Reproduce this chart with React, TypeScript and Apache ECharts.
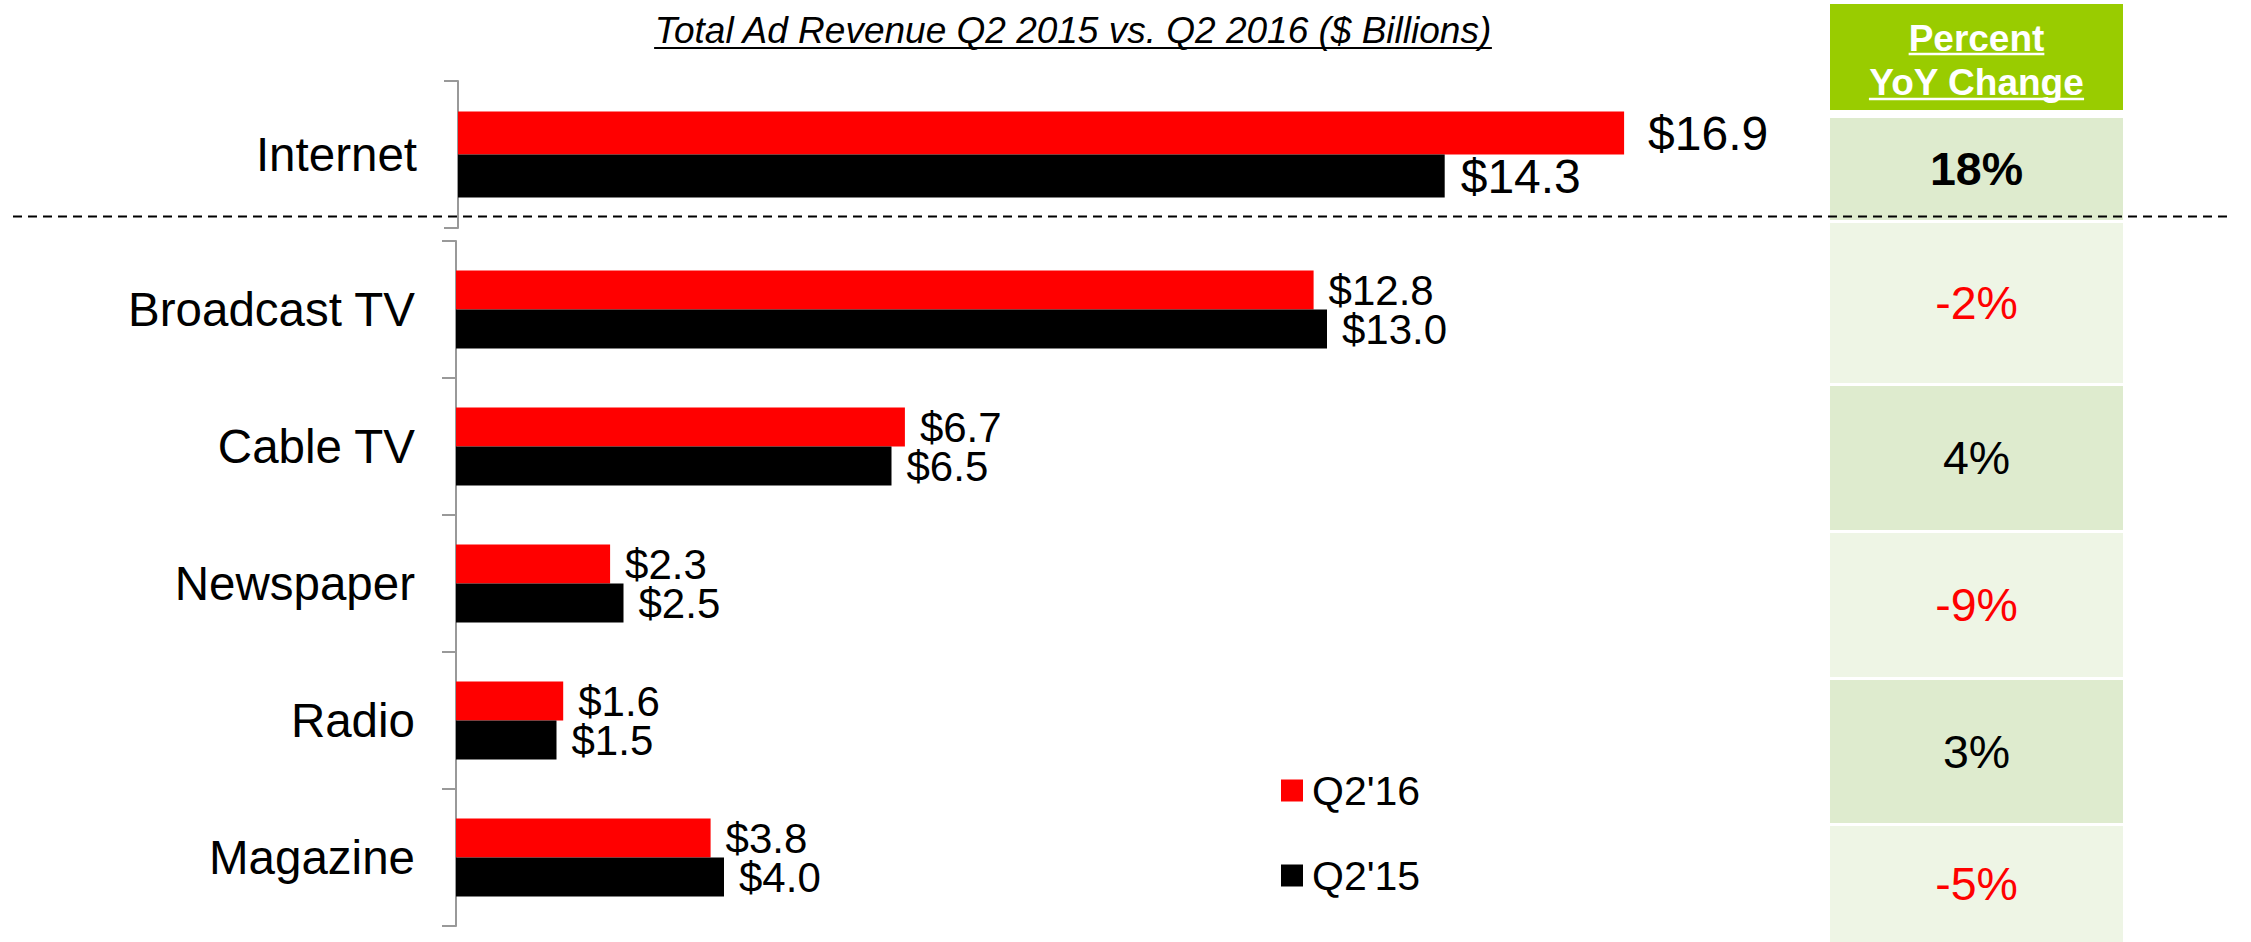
import React, { useEffect, useRef } from "react";
import * as echarts from "echarts";

// ---------- data ----------
const topCategory = ["Internet"];
const topQ216 = [16.9];
const topQ215 = [14.3];
const categories = ["Broadcast TV", "Cable TV", "Newspaper", "Radio", "Magazine"];
const q216 = [12.8, 6.7, 2.3, 1.6, 3.8];
const q215 = [13.0, 6.5, 2.5, 1.5, 4.0];
const yoyChange = ["18%", "-2%", "4%", "-9%", "3%", "-5%"];
const seriesNames = ["Q2'16", "Q2'15"];
const titleText = "Total Ad Revenue Q2 2015 vs. Q2 2016 ($ Billions)";
const headerLines = ["Percent", "YoY Change"];

// ---------- layout ----------
const FONT = '"Liberation Sans", Arial, Helvetica, sans-serif';
const RED = "#FF0000";
const BLACK = "#000000";
const TABLE_X = 1830;
const TABLE_W = 293;
const ROWS: [number, number][] = [
  [118, 220],
  [223, 383],
  [386, 530],
  [533, 677],
  [680, 823],
  [826, 942],
];
const ROW_FILLS = ["#DEEBCE", "#EEF5E5", "#DEEBCE", "#EEF5E5", "#DEEBCE", "#EEF5E5"];

function measure(text: string, font: string): number {
  const ctx = document.createElement("canvas").getContext("2d");
  if (!ctx) return text.length * 20;
  ctx.font = font;
  return ctx.measureText(text).width;
}

export default function App() {
  const ref = useRef<HTMLDivElement>(null);

  useEffect(() => {
    if (!ref.current) return;
    const chart = echarts.init(ref.current, undefined, { renderer: "svg" });

    const fmt = (p: any) => "$" + Number(p.value).toFixed(1);
    const axisCommon = {
      type: "category" as const,
      axisLine: { show: true, lineStyle: { color: "#999999", width: 2 } },
      axisTick: { show: true, length: 14, alignWithLabel: false, lineStyle: { color: "#999999", width: 2 } },
      axisLabel: { fontSize: 47.5, color: "#000", margin: 41, fontFamily: FONT },
      splitLine: { show: false },
    };

    const titleW = measure(titleText, `italic 37px ${FONT}`);
    const tcx = 1073;
    const hcx = TABLE_X + TABLE_W / 2;
    const h1W = measure(headerLines[0], `bold 37px ${FONT}`);
    const h2W = measure(headerLines[1], `bold 37px ${FONT}`);

    const graphics: any[] = [
      {
        type: "text",
        x: tcx,
        y: 30,
        style: {
          text: titleText,
          fontSize: 37,
          fontStyle: "italic",
          fontFamily: FONT,
          fill: "#000",
          textAlign: "center",
          textVerticalAlign: "middle",
        },
      },
      {
        type: "line",
        shape: { x1: tcx - titleW / 2, y1: 48, x2: tcx + titleW / 2, y2: 48 },
        style: { stroke: "#000", lineWidth: 2 },
      },
      {
        type: "rect",
        shape: { x: TABLE_X, y: 4, width: TABLE_W, height: 106 },
        style: { fill: "#99CC00" },
      },
      {
        type: "text",
        x: hcx,
        y: 38,
        style: {
          text: headerLines[0],
          fontSize: 37,
          fontWeight: "bold",
          fontFamily: FONT,
          fill: "#fff",
          textAlign: "center",
          textVerticalAlign: "middle",
        },
      },
      {
        type: "line",
        shape: { x1: hcx - h1W / 2, y1: 54, x2: hcx + h1W / 2, y2: 54 },
        style: { stroke: "#fff", lineWidth: 2.5 },
      },
      {
        type: "text",
        x: hcx,
        y: 82,
        style: {
          text: headerLines[1],
          fontSize: 37,
          fontWeight: "bold",
          fontFamily: FONT,
          fill: "#fff",
          textAlign: "center",
          textVerticalAlign: "middle",
        },
      },
      {
        type: "line",
        shape: { x1: hcx - h2W / 2, y1: 99, x2: hcx + h2W / 2, y2: 99 },
        style: { stroke: "#fff", lineWidth: 2.5 },
      },
    ];

    yoyChange.forEach((txt, i) => {
      const [y0, y1] = ROWS[i];
      graphics.push({
        type: "rect",
        shape: { x: TABLE_X, y: y0, width: TABLE_W, height: y1 - y0 },
        style: { fill: ROW_FILLS[i] },
      });
      const neg = txt.trim().startsWith("-");
      graphics.push({
        type: "text",
        x: hcx,
        y: (y0 + y1) / 2,
        style: {
          text: txt,
          fontSize: 46.5,
          fontWeight: i === 0 ? "bold" : "normal",
          fontFamily: FONT,
          fill: neg ? RED : BLACK,
          textAlign: "center",
          textVerticalAlign: "middle",
        },
      });
    });

    graphics.push({
      type: "line",
      z: 100,
      shape: { x1: 13, y1: 216.5, x2: 2233, y2: 216.5 },
      style: { stroke: "#000", lineWidth: 2, lineDash: [9, 6] },
    });

    const labelTop = (distance: number) => ({
      show: true,
      position: "right" as const,
      distance,
      fontSize: 48,
      color: "#000",
      fontFamily: FONT,
      formatter: fmt,
    });
    const labelBottom = {
      show: true,
      position: "right" as const,
      distance: 15,
      fontSize: 42,
      color: "#000",
      fontFamily: FONT,
      formatter: fmt,
    };

    chart.setOption({
      animation: false,
      textStyle: { fontFamily: FONT },
      grid: [
        { left: 458, top: 81, height: 147, width: 1380, containLabel: false },
        { left: 456, top: 241, height: 685, width: 1340, containLabel: false },
      ],
      xAxis: [
        { type: "value", gridIndex: 0, min: 0, max: 20, show: false },
        { type: "value", gridIndex: 1, min: 0, max: 20, show: false },
      ],
      yAxis: [
        { ...axisCommon, gridIndex: 0, data: topCategory },
        { ...axisCommon, gridIndex: 1, data: categories, inverse: true },
      ],
      legend: {
        data: seriesNames,
        orient: "vertical",
        left: 1276,
        top: 765,
        icon: "rect",
        itemWidth: 22,
        itemHeight: 22,
        itemGap: 44,
        selectedMode: false,
        textStyle: { fontSize: 41, lineHeight: 40, color: "#000", fontFamily: FONT, padding: [0, 0, 0, 4] },
      },
      graphic: { elements: graphics },
      series: [
        {
          name: seriesNames[0],
          type: "bar",
          xAxisIndex: 0,
          yAxisIndex: 0,
          data: topQ216,
          barWidth: 43,
          barGap: "0%",
          itemStyle: { color: RED },
          label: labelTop(24),
        },
        {
          name: seriesNames[1],
          type: "bar",
          xAxisIndex: 0,
          yAxisIndex: 0,
          data: topQ215,
          barWidth: 43,
          barGap: "0%",
          itemStyle: { color: BLACK },
          label: labelTop(16),
        },
        {
          name: seriesNames[0],
          type: "bar",
          xAxisIndex: 1,
          yAxisIndex: 1,
          data: q216,
          barWidth: 39,
          barGap: "0%",
          itemStyle: { color: RED },
          label: labelBottom,
        },
        {
          name: seriesNames[1],
          type: "bar",
          xAxisIndex: 1,
          yAxisIndex: 1,
          data: q215,
          barWidth: 39,
          barGap: "0%",
          itemStyle: { color: BLACK },
          label: labelBottom,
        },
      ],
    });

    return () => chart.dispose();
  }, []);

  return (
    <div
      ref={ref}
      style={{ position: "fixed", left: 0, top: 0, width: 2251, height: 942, background: "#fff" }}
    />
  );
}
